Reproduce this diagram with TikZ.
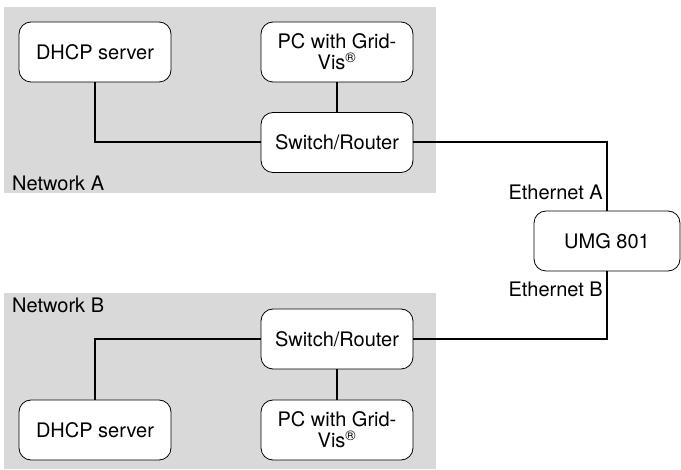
\documentclass[tikz,border=0pt]{standalone}
\usepackage{fontspec}
\setmainfont{TeX Gyre Heros}
\begin{document}
\begin{tikzpicture}[x=1pt, y=-1pt,
    devbox/.style={draw, line width=0.8pt, rounded corners=12pt, fill=white, minimum width=152pt, minimum height=60pt, align=center, inner sep=0pt, font=\fontsize{20}{21}\selectfont},
    wire/.style={line width=2pt},
    tag/.style={inner sep=0pt, font=\fontsize{20}{20}\selectfont}]
    \useasboundingbox (0,0) rectangle (681,470);
    \fill[gray!30] (4,7) rectangle (436,193);
    \fill[gray!30] (4,293) rectangle (436,469);
    % network A
    \node[devbox] (dhcpA) at (95,52) {DHCP server};
    \node[devbox] (pcA) at (337,52) {PC with Grid-\\Vis\textsuperscript{®}};
    \node[devbox] (swA) at (337,142.5) {Switch/Router};
    \node[tag, anchor=base west] (netA) at (12,191) {Network A};
    % device
    \node[devbox, minimum width=146pt] (umg) at (607,241) {UMG 801};
    \node[tag, anchor=base east] (ethA) at (603,200) {Ethernet A};
    \node[tag, anchor=base east] (ethB) at (603,297) {Ethernet B};
    % network B
    \node[devbox] (swB) at (337,339) {Switch/Router};
    \node[devbox] (dhcpB) at (95,430) {DHCP server};
    \node[devbox] (pcB) at (337,430) {PC with Grid-\\Vis\textsuperscript{®}};
    \node[tag, anchor=base west] (netB) at (12,313) {Network B};
    % wires
    \draw[wire] (dhcpA.south) |- (swA.west);
    \draw[wire] (pcA) -- (swA);
    \draw[wire] (swA.east) -| (umg.north);
    \draw[wire] (swB.east) -| (umg.south);
    \draw[wire] (dhcpB.north) |- (swB.west);
    \draw[wire] (swB) -- (pcB);
\end{tikzpicture}
\end{document}
